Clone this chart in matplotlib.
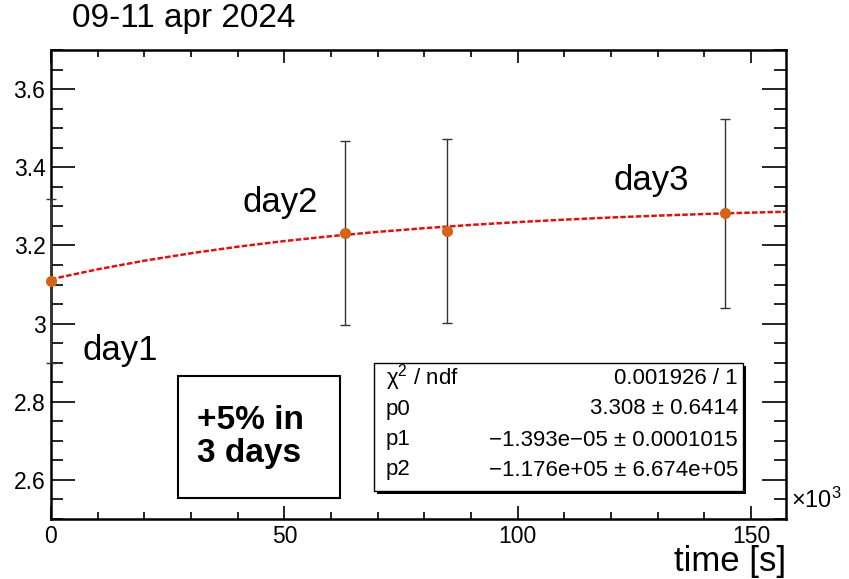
"""Fit of the daily measurements, 09-11 apr 2024 (ROOT-style reproduction)."""

import matplotlib

matplotlib.use("Agg")
import matplotlib.pyplot as plt  # noqa: E402
from matplotlib.patches import Rectangle  # noqa: E402
from matplotlib.ticker import FuncFormatter, MultipleLocator  # noqa: E402

plt.rcParams["font.family"] = ["Liberation Sans", "DejaVu Sans"]
plt.rcParams["mathtext.fontset"] = "custom"
plt.rcParams["mathtext.rm"] = "Liberation Sans"
plt.rcParams["mathtext.it"] = "Liberation Sans:italic"

# --- Data (x in units of 10^3 s) --------------------------------------
time_k = [0.0, 63.0, 84.8, 144.5]
value = [3.109, 3.232, 3.237, 3.282]
value_err = [0.21, 0.236, 0.235, 0.242]

# fitted curve
fit_time_k = [0, 10, 20, 30, 40, 50, 60, 70, 80, 90, 100, 110, 120, 130, 140, 150, 157.5]
fit_value = [3.1136, 3.1389, 3.1609, 3.1800, 3.1967, 3.2112, 3.2237, 3.2347, 3.2442,
             3.2525, 3.2597, 3.2660, 3.2715, 3.2762, 3.2804, 3.2840, 3.2862]

stat_labels = ["χ$^{2}$ / ndf", "p0", "p1", "p2"]
stat_values = ["0.001926 / 1", "3.308 ± 0.6414", "−1.393e−05 ± 0.0001015", "−1.176e+05 ± 6.674e+05"]

day_labels = ["day1", "day2", "day3"]
day_label_pos = [(6.7, 2.93), (41.0, 3.31), (120.5, 3.367)]

X_RANGE = (0, 157.5)
Y_RANGE = (2.5, 3.7)

fig = plt.figure(figsize=(8.49, 5.79), dpi=100)
ax = fig.add_axes([0.060, 0.1036, 0.866, 0.810])

ax.plot(fit_time_k, fit_value, color="#e01010", linestyle=(0, (2.2, 0.9)), linewidth=1.8, zorder=2)
ax.errorbar(time_k, value, yerr=value_err, fmt="none", ecolor="#333333",
            elinewidth=1.0, capsize=3.5, capthick=1.0, zorder=3, clip_on=False)
ax.plot(time_k, value, "o", color="#d2651a", markersize=8, markeredgewidth=0, zorder=4, clip_on=False)

ax.set_xlim(*X_RANGE)
ax.set_ylim(*Y_RANGE)
ax.xaxis.set_major_locator(MultipleLocator(50))
ax.xaxis.set_minor_locator(MultipleLocator(10))
ax.yaxis.set_major_locator(MultipleLocator(0.2))
ax.yaxis.set_minor_locator(MultipleLocator(0.05))
ax.xaxis.set_major_formatter(FuncFormatter(lambda v, _: f"{v:g}"))
ax.yaxis.set_major_formatter(FuncFormatter(lambda v, _: f"{v:g}"))

for side in ax.spines.values():
    side.set_linewidth(1.8)
ax.tick_params(which="both", direction="in", top=True, right=True, width=1.2, labelsize=16.5)
ax.tick_params(axis="x", which="major", length=9.5, pad=4)
ax.tick_params(axis="x", which="minor", length=5)
ax.tick_params(axis="y", which="major", length=17, pad=4)
ax.tick_params(axis="y", which="minor", length=8.5)

ax.text(1.006, 0.012, "×10$^{3}$", transform=ax.transAxes, fontsize=17, ha="left", va="bottom")
fig.text(0.926, 1 - 571 / 579, "time [s]", fontsize=25, ha="right", va="baseline")
fig.text(0.085, 0.968, "09-11 apr 2024", fontsize=24, ha="left", va="center")

for label, (lx, ly) in zip(day_labels, day_label_pos):
    ax.text(lx, ly, label, fontsize=25, ha="left", va="center")

# annotation box
box = Rectangle((178 / 849, 1 - 498 / 579), 162 / 849, 122 / 579, transform=fig.transFigure,
                facecolor="white", edgecolor="black", linewidth=1.5)
fig.add_artist(box)
fig.text(197 / 849, 1 - 437 / 579, "+5% in\n3 days", fontsize=24, fontweight="bold",
         ha="left", va="center", linespacing=1.1)

# fit statistics box with drop shadow
sx0, sx1, sy0, sy1 = 374 / 849, 743 / 849, 1 - 491 / 579, 1 - 363 / 579
shadow = Rectangle((sx0 + 3 / 849, sy0 - 3 / 579), sx1 - sx0, sy1 - sy0, transform=fig.transFigure,
                   facecolor="black", edgecolor="black", linewidth=0)
fig.add_artist(shadow)
stats = Rectangle((sx0, sy0), sx1 - sx0, sy1 - sy0, transform=fig.transFigure,
                  facecolor="white", edgecolor="black", linewidth=1.0)
fig.add_artist(stats)
row_y = [378, 409, 440, 470]
for lab, val, ry in zip(stat_labels, stat_values, row_y):
    fig.text(386 / 849, 1 - ry / 579, lab, fontsize=16, ha="left", va="center")
    fig.text(738 / 849, 1 - ry / 579, val, fontsize=16, ha="right", va="center")

fig.savefig("out.png", dpi=100)
